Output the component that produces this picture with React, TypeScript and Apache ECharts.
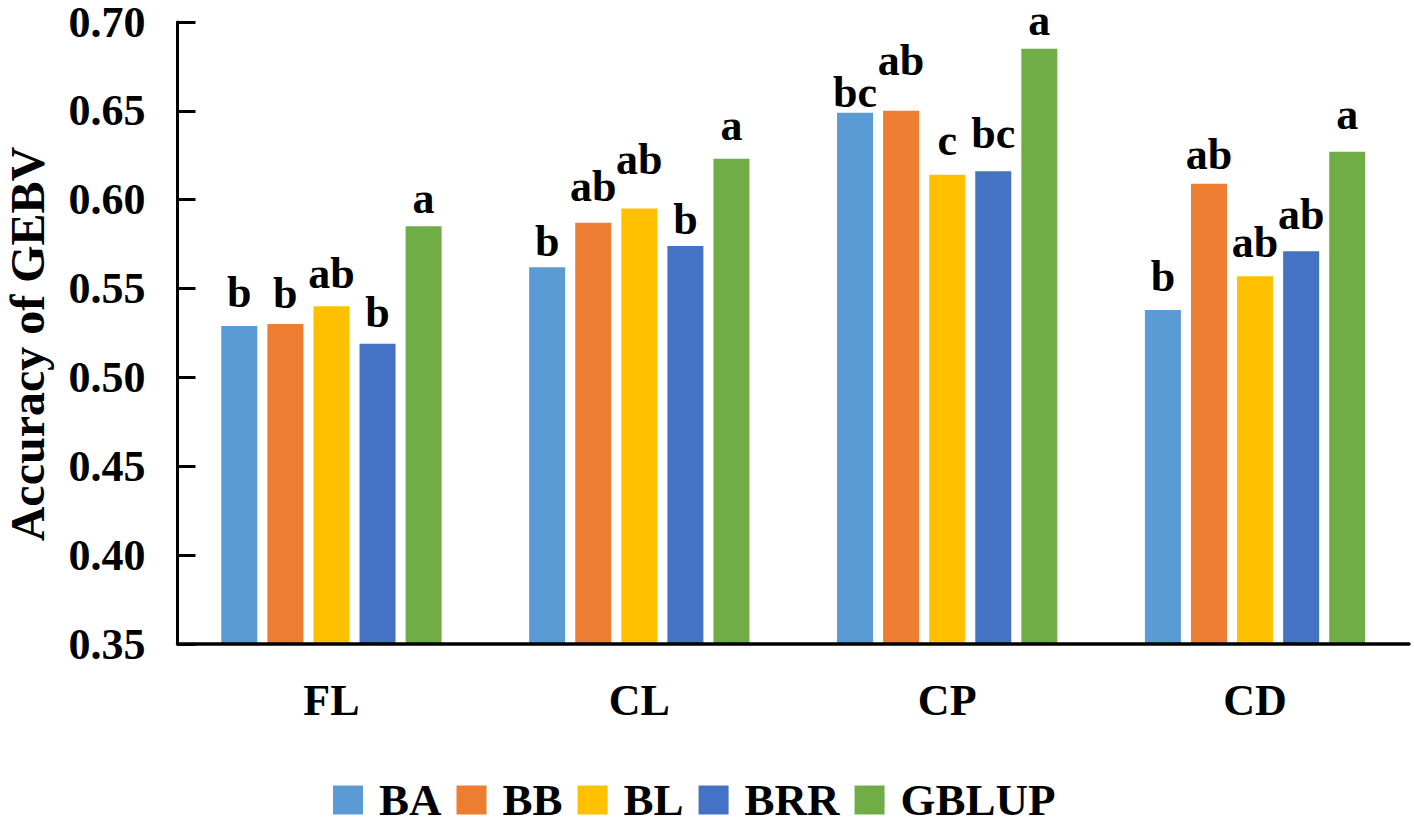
import React, { useEffect, useRef } from "react";
import * as echarts from "echarts";

const categories = ["FL", "CL", "CP", "CD"];
const seriesNames = ["BA", "BB", "BL", "BRR", "GBLUP"];
const BA = [0.529, 0.562, 0.649, 0.538];
const BB = [0.53, 0.587, 0.65, 0.609];
const BL = [0.54, 0.595, 0.614, 0.557];
const BRR = [0.519, 0.574, 0.616, 0.571];
const GBLUP = [0.585, 0.623, 0.685, 0.627];
const lettersBA = ["b", "b", "bc", "b"];
const lettersBB = ["b", "ab", "ab", "ab"];
const lettersBL = ["ab", "ab", "c", "ab"];
const lettersBRR = ["b", "b", "bc", "ab"];
const lettersGBLUP = ["a", "a", "a", "a"];
// small vertical nudges of the significance letters, as placed in the reference
const labelLift = [
  [1, -6, -12, 1],
  [-1, 4, 18, -3],
  [1, 17, 2, 2],
  [-1, -6, 6, 5],
  [-4, 1, -4, 5],
];
const yTicks = { min: 0.35, max: 0.7, interval: 0.05 };
const yTitle = "Accuracy of GEBV";
const colors = ["#5B9BD5", "#ED7D31", "#FFC000", "#4472C4", "#70AD47"];

const FONT = "'Liberation Serif', 'Times New Roman', serif";

export default function App() {
  const ref = useRef<HTMLDivElement>(null);
  useEffect(() => {
    if (!ref.current) return;
    const chart = echarts.init(ref.current, undefined, { renderer: "svg" });
    const values = [BA, BB, BL, BRR, GBLUP];
    const letters = [lettersBA, lettersBB, lettersBL, lettersBRR, lettersGBLUP];
    chart.setOption({
      animation: false,
      backgroundColor: "#ffffff",
      textStyle: { fontFamily: FONT },
      grid: { left: 177.5, right: 5, top: 19, bottom: 180, containLabel: false },
      graphic: [
        {
          type: "text",
          x: 27,
          y: 344,
          rotation: Math.PI / 2,
          style: {
            text: yTitle,
            font: "bold 48px " + FONT,
            fill: "#000",
            textAlign: "center",
            textVerticalAlign: "middle",
          },
        },
      ],
      legend: {
        data: seriesNames,
        left: 333,
        top: 776,
        padding: 0,
        itemWidth: 30,
        itemHeight: 29,
        itemGap: 15,
        icon: "rect",
        textStyle: {
          fontFamily: FONT,
          fontWeight: "bold",
          fontSize: 45,
          lineHeight: 48,
          color: "#000",
          padding: [0, 0, 0, 11],
        },
      },
      xAxis: {
        type: "category",
        data: categories,
        z: 10,
        axisLine: { lineStyle: { color: "#000", width: 3.5 } },
        axisTick: { show: false },
        axisLabel: {
          margin: 34,
          fontFamily: FONT,
          fontWeight: "bold",
          fontSize: 44,
          lineHeight: 45,
          color: "#000",
        },
      },
      yAxis: {
        type: "value",
        min: yTicks.min,
        max: yTicks.max,
        interval: yTicks.interval,
        z: 10,
        axisLine: { show: true, lineStyle: { color: "#000", width: 3 } },
        axisTick: { show: true, inside: true, length: 18, lineStyle: { color: "#000", width: 3 } },
        splitLine: { show: false },
        axisLabel: {
          margin: 32,
          fontFamily: FONT,
          fontWeight: "bold",
          fontSize: 44,
          color: "#000",
          formatter: (v: number) => v.toFixed(2),
        },
      },
      series: seriesNames.map((name, i) => ({
        name,
        type: "bar",
        barWidth: 36,
        barGap: "28%",
        itemStyle: { color: colors[i] },
        data: values[i].map((v, j) => ({
          value: v,
          label: { formatter: letters[i][j], offset: [0, -labelLift[i][j]] },
        })),
        label: {
          show: true,
          position: "top",
          distance: 10,
          fontFamily: FONT,
          fontWeight: "bold",
          fontSize: 44,
          lineHeight: 44,
          color: "#000",
        },
      })),
    });
    return () => chart.dispose();
  }, []);
  return (
    <div
      ref={ref}
      style={{ position: "absolute", left: 0, top: 0, width: 1414, height: 824, background: "#fff" }}
    />
  );
}
